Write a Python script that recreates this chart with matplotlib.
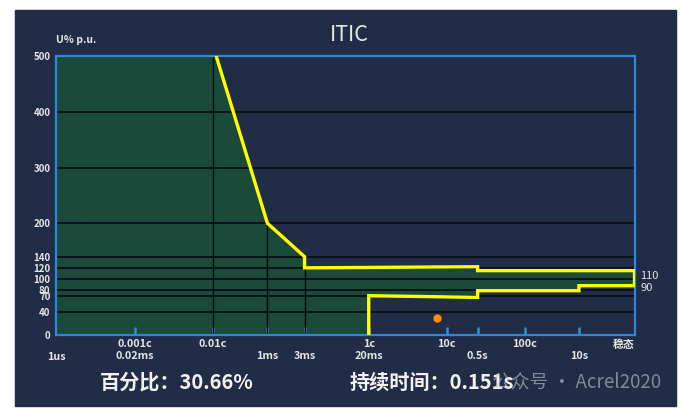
import matplotlib.pyplot as plt
from matplotlib.patches import Rectangle
from matplotlib.ticker import FixedLocator, FixedFormatter

plt.rcParams['font.family'] = ['Noto Sans CJK SC', 'DejaVu Sans']

# time axis in seconds (log scale), 1 cycle = 20 ms
t_min = 1.93e-6
t_end = 51.7  # "steady state" at right edge

tick_t = [2e-5, 2e-4, 1e-3, 3e-3, 2e-2, 0.2, 0.5, 2, 10]
tick_lab = ['0.001c\n0.02ms', '0.01c\n', '\n1ms', '\n3ms', '1c\n20ms',
            '10c\n', '\n0.5s', '100c\n', '\n10s']
start_lab = '1us'
end_lab = '稳态'

y_ticks = [0, 40, 70, 80, 100, 120, 140, 200, 300, 400, 500]

# ITIC tolerance curve (yellow): upper limit then lower limit
upper_t = [2.2e-4, 1e-3, 3e-3, 3e-3, 0.5, 0.5, t_end]
upper_u = [500, 200, 140, 120, 122, 115, 115]
lower_t = [t_end, 10, 10, 0.5, 0.5, 2e-2, 2e-2]
lower_u = [88, 88, 79, 79, 67, 70, 0]

vline_t = [2e-4, 1e-3, 3e-3]

# recorded event
event_t = 0.151
event_u = 30.66

navy = '#212c46'
green = '#1c4a3a'
blue = '#2d87dc'
txt = '#e6e6e6'

fig = plt.figure(figsize=(6.83, 4.11), dpi=100)
fig.patch.set_facecolor('white')
fig.add_artist(Rectangle((15 / 683, 5 / 411), 661 / 683, 396 / 411,
                         transform=fig.transFigure, color=navy, zorder=-10))

ax = fig.add_axes([0.082, 0.1856, 0.847, 0.678])
ax.set_facecolor(navy)
ax.set_xscale('log')
ax.set_xlim(t_min, t_end)
ax.set_ylim(0, 500)

# green area inside the tolerance curve
xs = [t_min, t_min] + upper_t + lower_t
ys = [0, 500] + upper_u + lower_u
poly = ax.fill(xs, ys, color=green, zorder=1, lw=0)[0]

for y in y_ticks[1:-1]:
    ax.axhline(y, color='#0a0e16', lw=1.3, zorder=2)

vl = ax.vlines(vline_t, 0, 500, color='#050805', lw=1.0, zorder=2)
vl.set_clip_path(poly)

ax.plot(upper_t + lower_t, upper_u + lower_u, color='#ffff00', lw=2.4,
        zorder=3, solid_joinstyle='miter')
ax.plot([event_t], [event_u], 'o', color='#ff8c00', ms=6, mec='none', zorder=4)

for s in ax.spines.values():
    s.set_color(blue)
    s.set_linewidth(1.6)

ax.set_yticks(y_ticks)
ax.set_yticklabels([str(v) for v in y_ticks])
ax.tick_params(axis='y', length=0, pad=4, labelsize=7, labelcolor=txt)
for lab in ax.get_yticklabels():
    lab.set_fontweight('bold')

ax.xaxis.set_major_locator(FixedLocator(tick_t))
ax.xaxis.set_major_formatter(FixedFormatter(tick_lab))
ax.xaxis.set_minor_locator(FixedLocator([]))
ax.tick_params(axis='x', which='major', direction='in', length=6, width=1.8,
               color='#2a93d6', pad=3, labelsize=7.8, labelcolor=txt)
for lab in ax.get_xticklabels():
    lab.set_fontweight('bold')
    lab.set_linespacing(1.25)

# labels at the two ends of the time axis
xt = ax.get_xaxis_transform()
ax.text(t_min, -0.08, start_lab, transform=xt, color=txt, fontsize=7.8,
        fontweight='bold', ha='center', va='center')
ax.text(t_end, -0.037, end_lab, transform=xt, color=txt, fontsize=7.8,
        fontweight='bold', ha='right', va='center')

tr = ax.get_yaxis_transform()
ax.text(1.01, 106, '110', transform=tr, color=txt, fontsize=8, va='center')
ax.text(1.01, 84, '90', transform=tr, color=txt, fontsize=8, va='center')

fig.text(0.511, 0.915, 'ITIC', color=txt, fontsize=15.5, ha='center',
         va='center', fontweight='medium')
fig.text(0.111, 0.903, 'U% p.u.', color=txt, fontsize=7.5, ha='center',
         va='center', fontweight='bold')

fig.text(100 / 683, 0.0706, '百分比：30.66%', color='#f2f2f2', fontsize=14.5,
         fontweight='bold', va='center')
fig.text(350 / 683, 0.0706, '持续时间：0.151s', color='#f2f2f2', fontsize=14.5,
         fontweight='bold', va='center')
fig.text(661 / 683, 0.0706, '公众号 · Acrel2020', color='#c4c8d0', alpha=0.6,
         fontsize=13.5, ha='right', va='center')

fig.savefig('out.png', dpi=100, facecolor=fig.get_facecolor())
